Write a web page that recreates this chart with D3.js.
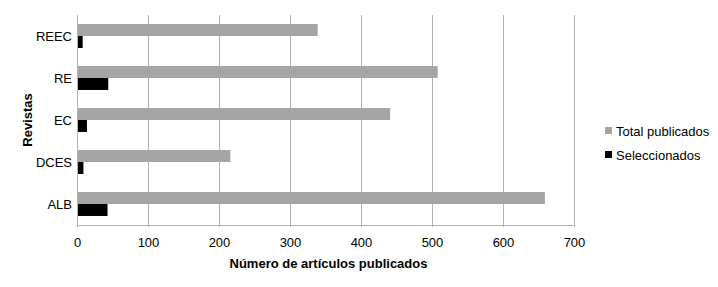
<!DOCTYPE html>
<html>
<head>
<meta charset="utf-8">
<script src="https://cdn.jsdelivr.net/npm/d3@7"></script>
<style>
  body { margin: 0; background: #fff; }
  text { font-family: "Liberation Sans", Arial, sans-serif; }
</style>
</head>
<body>
<div id="chart"></div>
<script>
const WIDTH = 718
const HEIGHT = 287

var margin = {top: 15, right: 144, bottom: 62, left: 77},
    width = WIDTH - margin.left - margin.right,
    height = HEIGHT - margin.top - margin.bottom;

// journals, top to bottom
var revistas = ["REEC", "RE", "EC", "DCES", "ALB"]
var totalPublicados = [339, 508, 441, 216, 659]
var seleccionados = [8, 44, 14, 9, 43]
var series = ["Total publicados", "Seleccionados"]
var colors = ["#a5a5a5", "#000000"]
var xTicks = [0, 100, 200, 300, 400, 500, 600, 700]

var svg = d3.select("#chart")
	.append("svg")
	.attr("width", WIDTH)
	.attr("height", HEIGHT)
	.append("g")
	.attr("transform", "translate(" + margin.left + "," + margin.top + ")");

var x = d3.scaleLinear()
	.domain([0, 700])
	.range([0, width]);

var y = d3.scaleBand()
	.domain(revistas)
	.range([0, height])
	.paddingInner(0.43)
	.paddingOuter(0.215);

var ySub = d3.scaleBand()
	.domain(series)
	.range([0, y.bandwidth()]);

// vertical gridlines
svg.append("g")
	.selectAll("line")
	.data(xTicks)
	.enter()
	.append("line")
	.attr("x1", d => x(d) + 0.5)
	.attr("x2", d => x(d) + 0.5)
	.attr("y1", 0)
	.attr("y2", height + 2)
	.attr("stroke", "#b3b3b3")
	.attr("stroke-width", 1);

// bars
var rows = revistas.map((r, i) => ({revista: r, values: [totalPublicados[i], seleccionados[i]]}))

var groups = svg.selectAll(".grp")
	.data(rows)
	.enter()
	.append("g")
	.attr("transform", d => "translate(0," + y(d.revista) + ")");

groups.selectAll("rect")
	.data(d => d.values.map((v, j) => ({serie: series[j], value: v, color: colors[j]})))
	.enter()
	.append("rect")
	.attr("x", x(0) + 1)
	.attr("y", d => ySub(d.serie))
	.attr("width", d => x(d.value) - x(0) - 1)
	.attr("height", ySub.bandwidth())
	.style("fill", d => d.color);

// bottom axis line
svg.append("line")
	.attr("x1", 0)
	.attr("x2", width + 1)
	.attr("y1", height + 0.5)
	.attr("y2", height + 0.5)
	.attr("stroke", "#b3b3b3");

// x tick labels
svg.append("g")
	.selectAll("text")
	.data(xTicks)
	.enter()
	.append("text")
	.attr("x", d => x(d) + 0.5)
	.attr("y", height + 22)
	.attr("text-anchor", "middle")
	.style("font-size", "13px")
	.text(d => d);

// y tick labels
svg.append("g")
	.selectAll("text")
	.data(revistas)
	.enter()
	.append("text")
	.attr("x", -5)
	.attr("y", d => y(d) + y.bandwidth() / 2)
	.attr("dy", "0.35em")
	.attr("text-anchor", "end")
	.style("font-size", "13px")
	.text(d => d);

// axis titles
svg.append("text")
	.attr("x", width / 2 + 3)
	.attr("y", height + 43)
	.attr("text-anchor", "middle")
	.style("font-size", "13px")
	.style("font-weight", "bold")
	.text("Número de artículos publicados");

svg.append("text")
	.attr("transform", "rotate(-90)")
	.attr("x", -height / 2)
	.attr("y", -45)
	.attr("text-anchor", "middle")
	.style("font-size", "13px")
	.style("font-weight", "bold")
	.text("Revistas");

// legend
var legend = svg.append("g")
	.attr("transform", "translate(" + (width + 31) + "," + (116) + ")");

series.forEach((s, i) => {
	var item = legend.append("g").attr("transform", "translate(0," + (i * 24) + ")")
	item.append("rect")
		.attr("x", 0)
		.attr("y", -4)
		.attr("width", 7)
		.attr("height", 7)
		.style("fill", colors[i]);
	item.append("text")
		.attr("x", 11)
		.attr("y", 0)
		.attr("dy", "0.35em")
		.style("font-size", "13px")
		.text(s);
})
</script>
</body>
</html>
